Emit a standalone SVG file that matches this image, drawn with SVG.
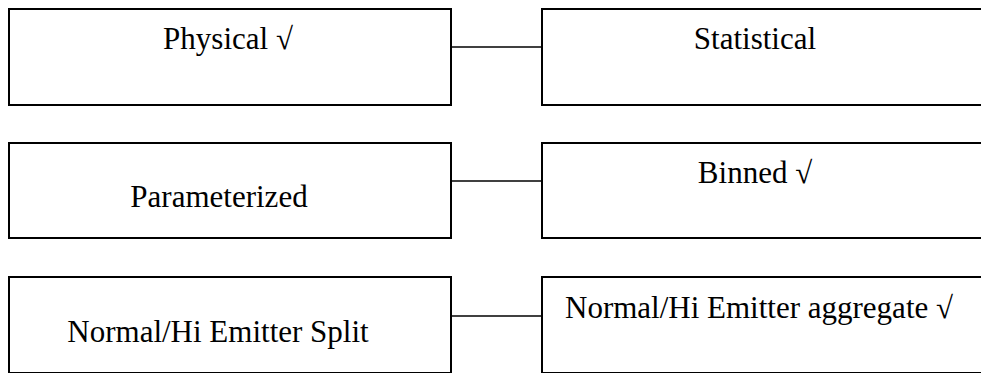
<svg xmlns="http://www.w3.org/2000/svg" width="981" height="373" viewBox="0 0 981 373">
<style>
.box{fill:#fff;stroke:#000;stroke-width:2}
.conn{stroke:#000;stroke-width:1.6;fill:none}
text{font-family:"Liberation Serif","Times New Roman",serif;font-size:31px;fill:#000}
.c{text-anchor:middle}
</style>
<rect width="981" height="373" fill="#fff"/>
<g id="connectors">
<line class="conn" x1="451" y1="47" x2="542" y2="47"/>
<line class="conn" x1="451" y1="181" x2="542" y2="181"/>
<line class="conn" x1="451" y1="316" x2="542" y2="316"/>
</g>
<g id="physical"><rect class="box" x="9" y="9" width="442" height="96"/><text class="c" x="228" y="49">Physical √</text></g>
<g id="statistical"><rect class="box" x="542" y="9" width="500" height="96"/><text class="c" x="755" y="49">Statistical</text></g>
<g id="parameterized"><rect class="box" x="9" y="143" width="442" height="95"/><text class="c" x="219" y="207">Parameterized</text></g>
<g id="binned"><rect class="box" x="542" y="143" width="500" height="95"/><text class="c" x="755" y="183">Binned √</text></g>
<g id="split"><rect class="box" x="9" y="277" width="442" height="96"/><text class="c" x="218" y="342">Normal/Hi Emitter Split</text></g>
<g id="aggregate"><rect class="box" x="542" y="277" width="500" height="96"/><text x="565" y="318">Normal/Hi Emitter aggregate √</text></g>
</svg>
